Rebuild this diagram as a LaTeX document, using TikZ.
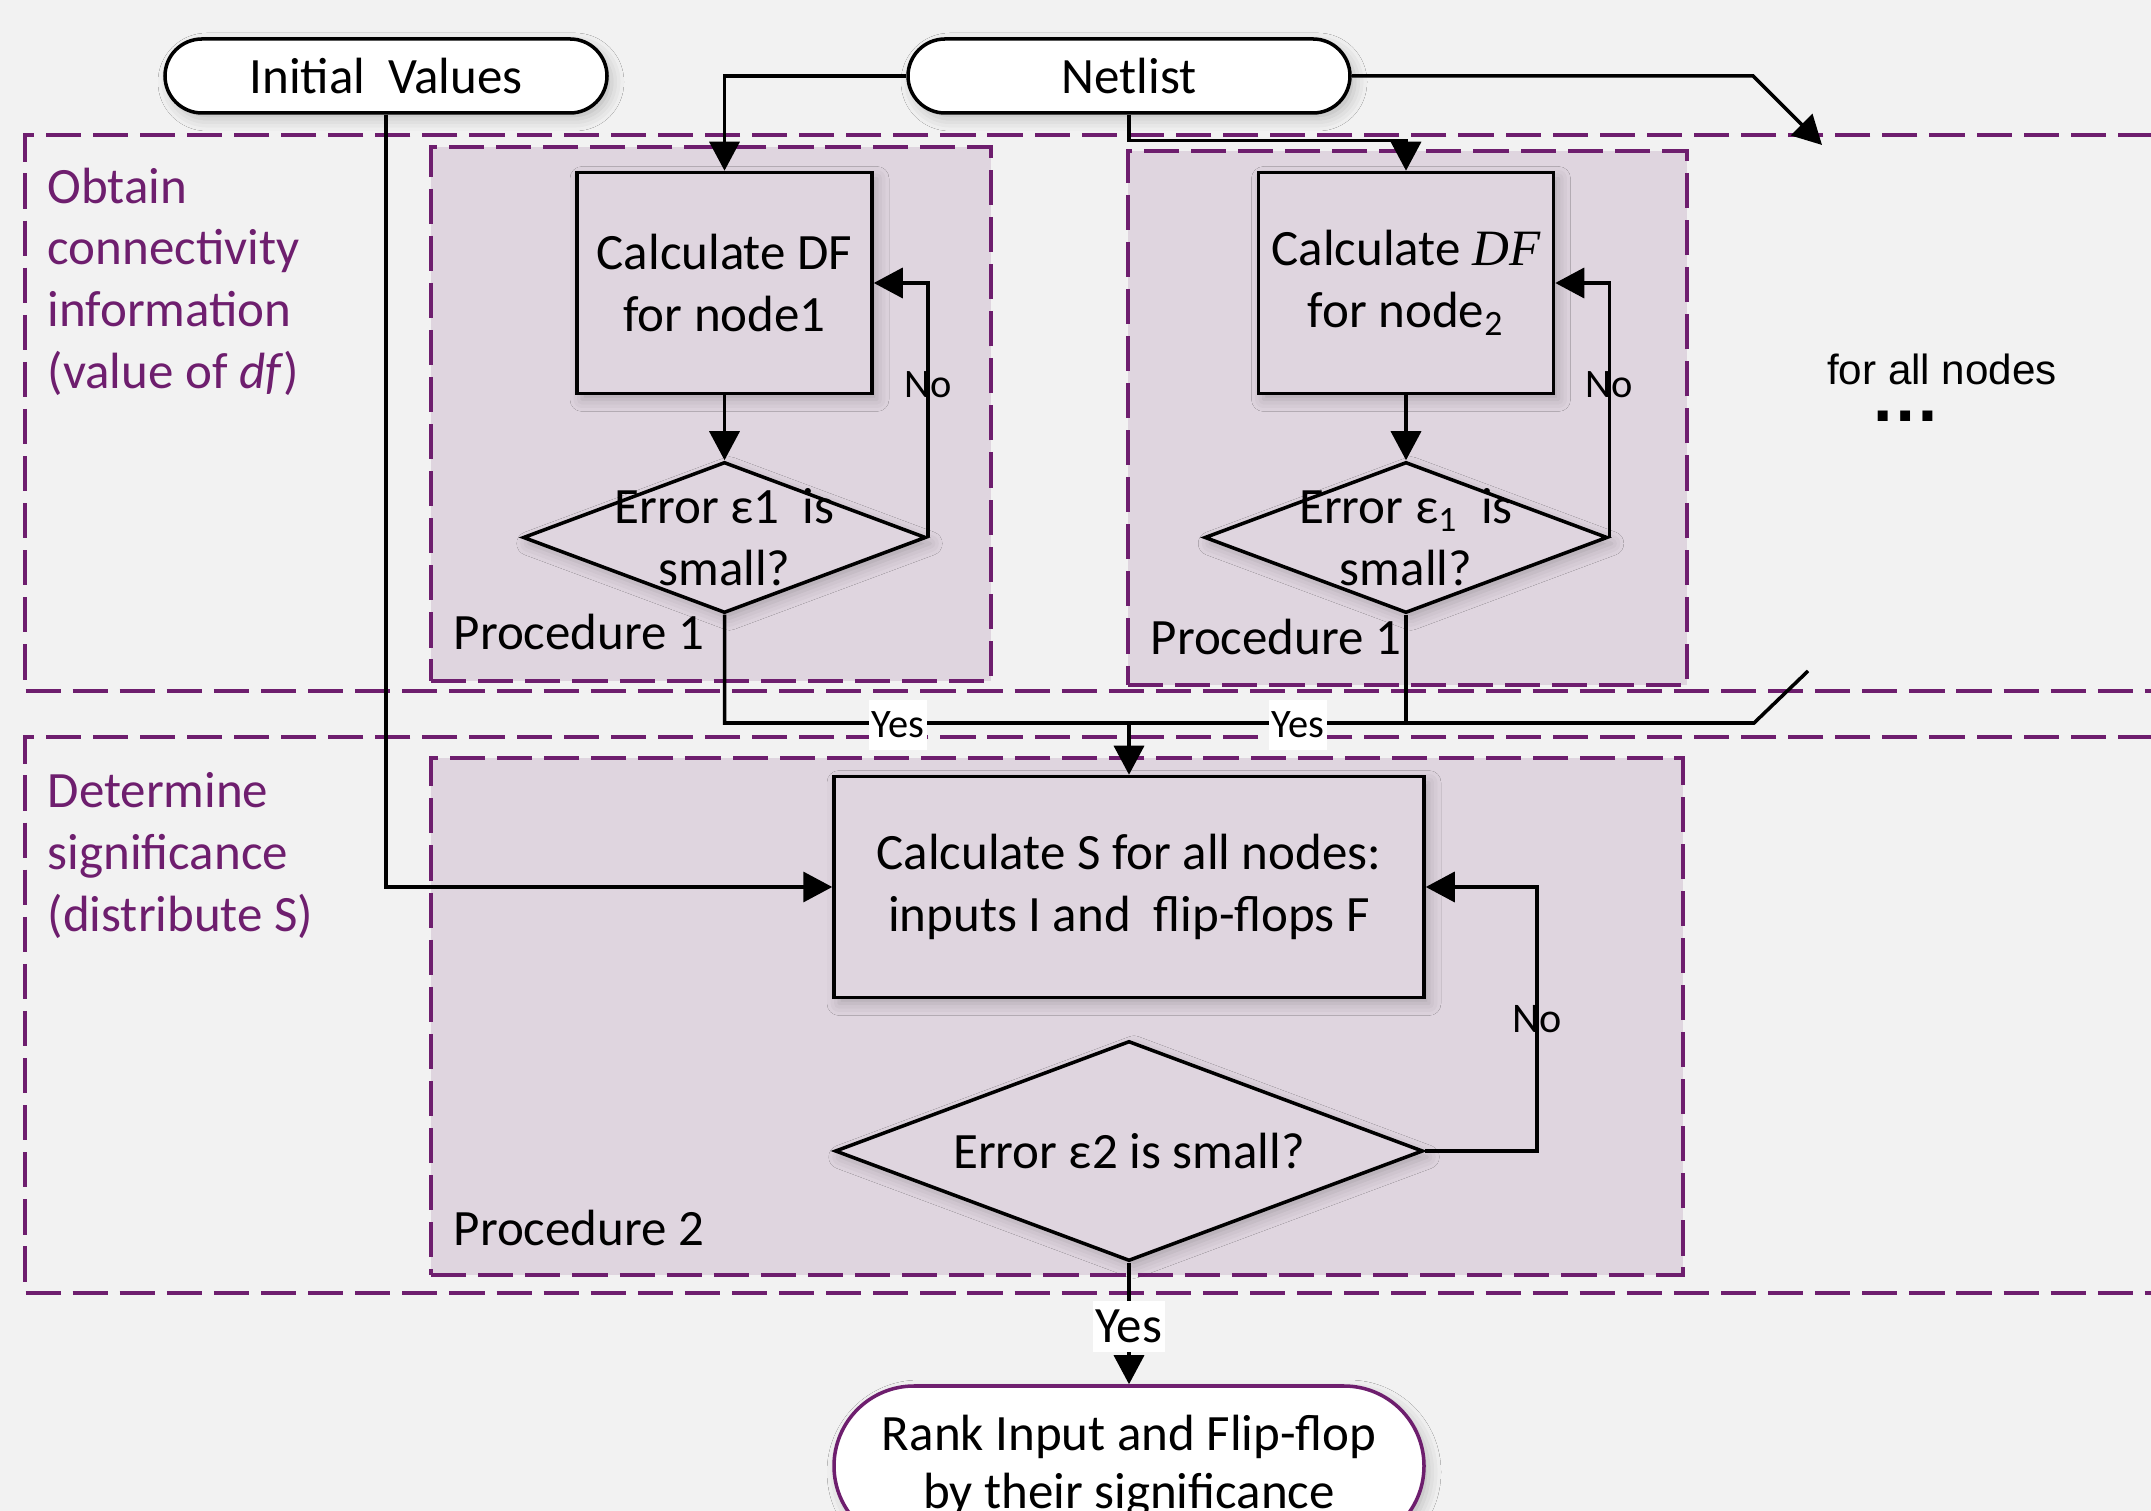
\documentclass[tikz,border=0pt]{standalone}
\usepackage{fontspec}
\setmainfont{Carlito}
\newfontfamily\arialfont{Liberation Sans}
\newfontfamily\timesfont{Liberation Serif}
\usetikzlibrary{shapes.geometric,arrows.meta,shadows.blur}
\definecolor{lanepurple}{HTML}{6E1E6E}
\definecolor{procfill}{HTML}{DFD5DF}
\definecolor{pagegray}{HTML}{F2F2F2}

\begin{document}
\begin{tikzpicture}[x=1cm, y=-1cm,
	every node/.style={font=\fontsize{14.5}{17.6}\selectfont},
	glow/.style={blur shadow={shadow xshift=0.5mm, shadow yshift=-0.6mm, shadow blur radius=1.2mm, shadow opacity=22}},
	terminal/.style={draw, line width=1pt, fill=white, rounded corners=0.37cm, minimum width=4.42cm, minimum height=0.74cm, inner sep=0pt, glow},
	stepbox/.style={draw, line width=1pt, fill=procfill, align=center, minimum height=2.21cm, inner sep=0pt, glow},
	decision/.style={draw, diamond, line width=1pt, fill=procfill, inner sep=0pt, glow},
	lane/.style={draw=lanepurple, line width=1.2pt, dash pattern=on 10pt off 3.4pt},
	procbox/.style={lane, fill=procfill, inner sep=0pt, anchor=north west},
	lanetext/.style={text=lanepurple, align=left, anchor=north west, inner sep=0pt},
	proctext/.style={anchor=base west, inner sep=0pt, xshift=0.24cm},
	conn/.style={line width=1pt},
	arr/.style={conn, -{Triangle[length=0.29cm, width=0.30cm]}},
	small/.style={font=\fontsize{11.5}{13}\selectfont, inner sep=0pt},
	]
	\useasboundingbox (0,0) rectangle (21.51,15.11);
	\clip (0,0) rectangle (21.51,15.11);
	\fill [pagegray] (0,0) rectangle (21.51,15.11);
	\draw [lane] (22,1.35) -- (0.25,1.35) -- (0.25,6.91) -- (22,6.91);
	\draw [lane] (22,7.37) -- (0.25,7.37) -- (0.25,12.93) -- (22,12.93);

	\node (proca) [procbox, minimum width=5.60cm, minimum height=5.34cm] at (4.29,1.45) {};
	\node (procb) [procbox, minimum width=5.59cm, minimum height=5.34cm] at (11.26,1.49) {};
	\node (procc) [procbox, minimum width=12.52cm, minimum height=5.17cm] at (4.29,7.56) {};

	\node (obtain) [lanetext] at (0.47,1.67) {Obtain\\connectivity\\information\\(value of \textit{df})};
	\node (determine) [lanetext] at (0.47,7.72) {Determine\\significance\\(distribute S)};
	\node (pa) [proctext, yshift=0.34cm] at (proca.south west) {Procedure 1};
	\node (pb) [proctext, yshift=0.33cm] at (procb.south west) {Procedure 1};
	\node (pc) [proctext, yshift=0.32cm] at (procc.south west) {Procedure 2};

	\node (init) [terminal] at (3.86,0.76) {Initial\ \ Values};
	\node (netlist) [terminal] at (11.29,0.76) {Netlist};
	\node (dfa) [stepbox, minimum width=2.95cm] at (7.245,2.83) {Calculate DF\\for node1};
	\node (dfb) [stepbox, minimum width=2.95cm] at (14.06,2.83) {Calculate {\timesfont\itshape DF}\\for node\textsubscript{2}};
	\node (erra) [decision, minimum width=4.03cm, minimum height=1.51cm, label={[align=center]center:Error ε1\ \ is\\small?}] at (7.245,5.375) {};
	\node (errb) [decision, minimum width=4.03cm, minimum height=1.51cm, label={[align=center]center:Error ε\textsubscript{1}\ \ is\\small?}] at (14.06,5.375) {};
	\node (calcs) [stepbox, minimum width=5.90cm] at (11.29,8.87) {Calculate S for all nodes:\\inputs I and\ \ flip-flops F};
	\node (err) [decision, minimum width=5.88cm, minimum height=2.20cm, label=center:Error ε2 is small?] at (11.29,11.51) {};
	\node (rank) [terminal, draw=lanepurple, minimum width=5.90cm, minimum height=1.60cm, rounded corners=0.8cm, align=center, font=\fontsize{14.5}{16.5}\selectfont] at (11.29,14.66) {Rank Input and Flip-flop\\by their significance};

	\node (allnodes) [font=\arialfont\fontsize{12}{14}\selectfont, anchor=base] at (19.42,3.85) {for all nodes};
	\node (dots) [font=\arialfont\bfseries\fontsize{20}{20}\selectfont, anchor=base] at (19.06,4.22) {…};

	\coordinate (more) at (18.22,1.45);
	\coordinate (join) at (11.29,7.23);
	\coordinate (cut) at (18.08,6.71);
	\draw [arr] (netlist.west) -| (dfa.north);
	\draw [arr] (netlist.south) -- ++(0,0.26) -| (dfb.north);
	\draw [arr] (netlist.east) -- (17.53,0.76) -- (more);
	\draw [arr] (init.south) |- (calcs.west);
	\draw [arr] (dfa) -- (erra);
	\draw [arr] (dfb) -- (errb);
	\draw [arr] (erra.east) -- node [small, pos=0.6] {No} (erra.east |- dfa.east) -- (dfa.east);
	\draw [arr] (errb.east) -- node [small, pos=0.6] {No} (errb.east |- dfb.east) -- (dfb.east);
	\draw [conn] (erra.south) |- (17.54,7.23) -- (cut);
	\draw [conn] (errb.south) -- (errb.south |- join);
	\draw [arr] (join) -- (calcs.north);
	\node (yesa) [small, fill=white, minimum width=0.58cm, minimum height=0.5cm] at (8.98,7.25) {Yes};
	\node (yesb) [small, fill=white, minimum width=0.58cm, minimum height=0.5cm] at (12.98,7.25) {Yes};
	\draw [arr] (err.east) -- ++(1.12,0) |- node [small, pos=0.25, font=\fontsize{12}{14}\selectfont] {No} (calcs.east);
	\draw [arr] (err) -- (rank);
	\node (yesc) [fill=white, inner sep=0pt, minimum width=0.72cm, minimum height=0.51cm] at (11.29,13.26) {Yes};
\end{tikzpicture}
\end{document}
